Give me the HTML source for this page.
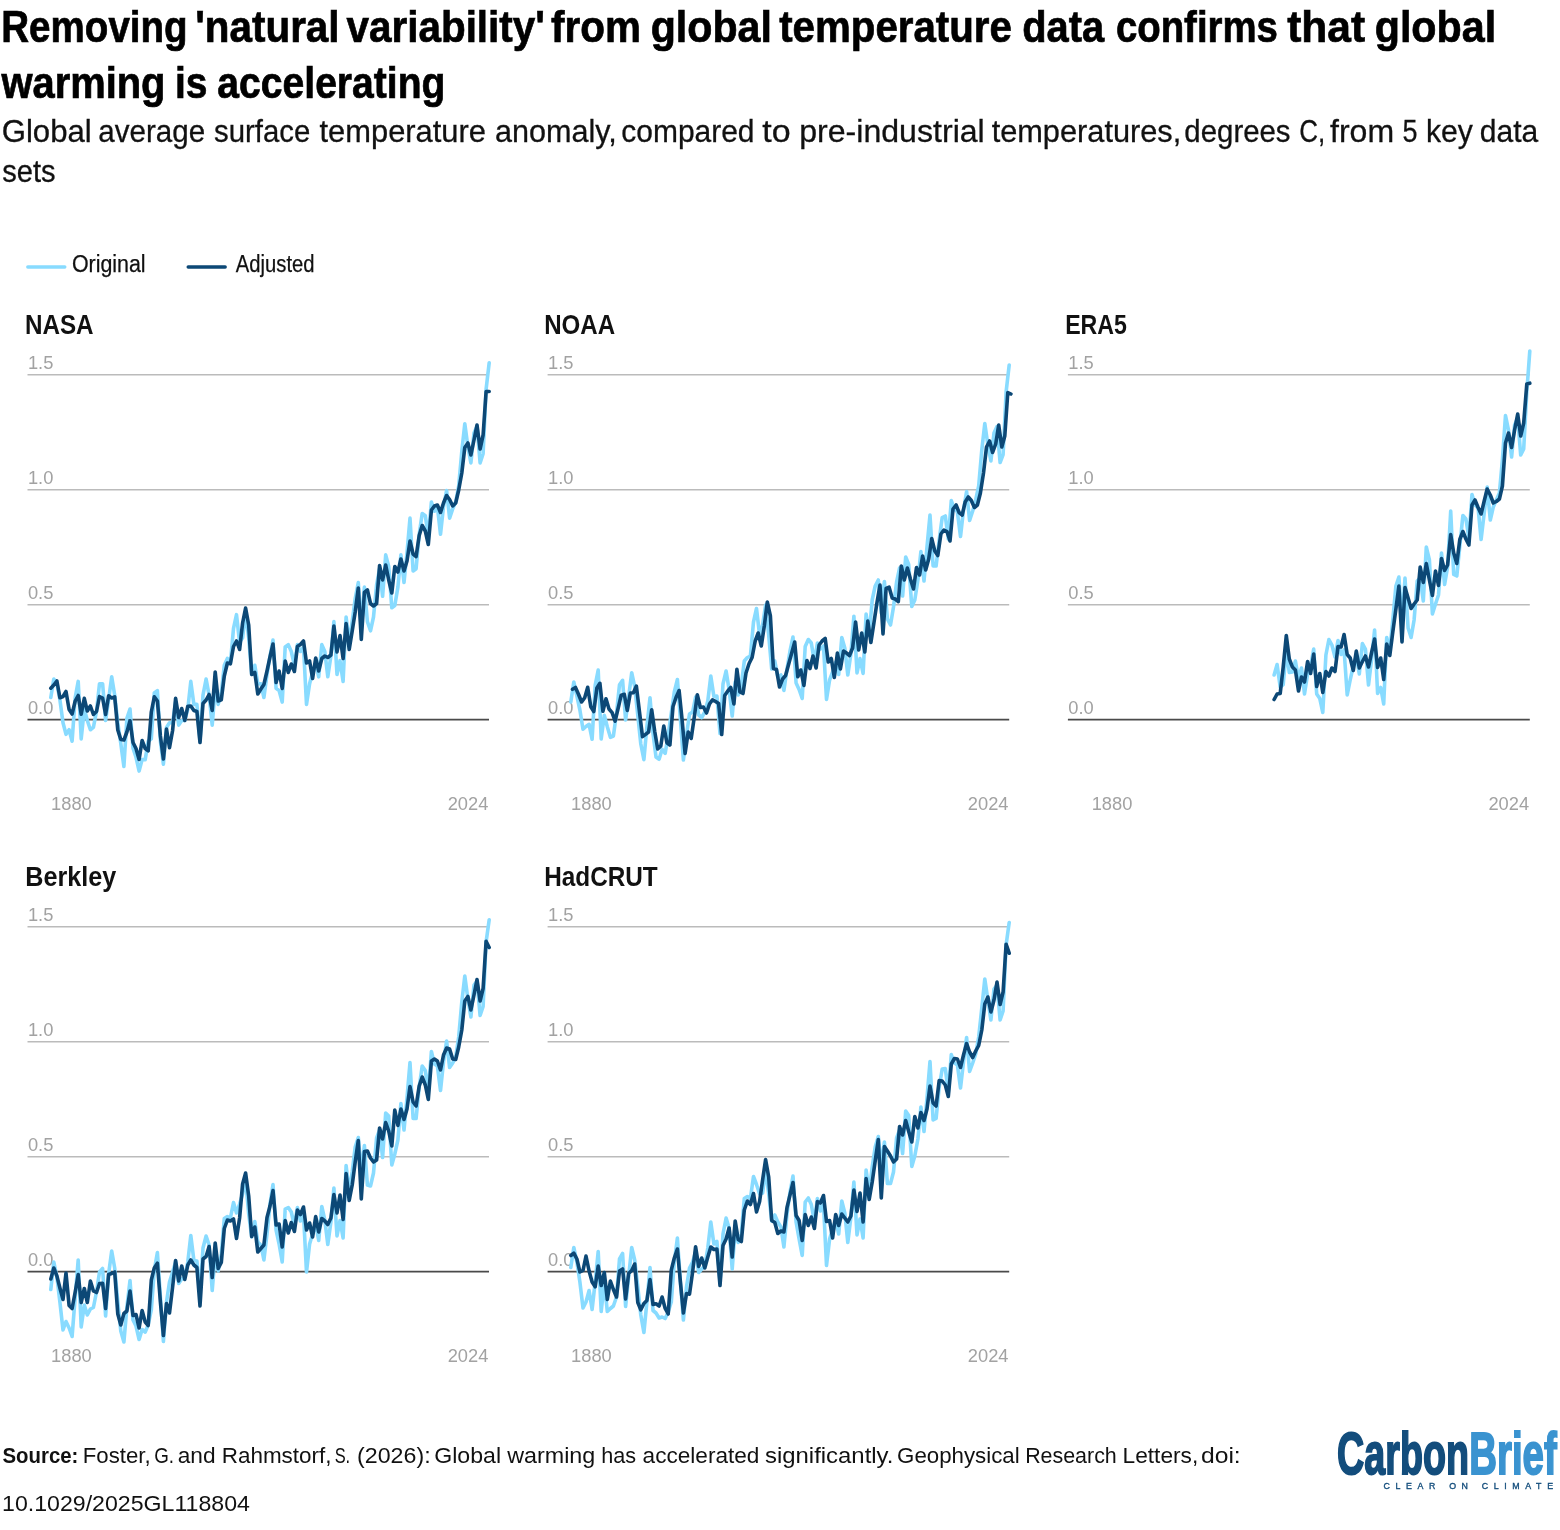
<!DOCTYPE html>
<html lang="en"><head><meta charset="utf-8"><title>Removing 'natural variability' from global temperature data confirms that global warming is accelerating</title>
<style>html,body{margin:0;padding:0;background:#fff}body{width:1560px;height:1530px;overflow:hidden;font-family:'Liberation Sans', Arial, Helvetica, sans-serif}svg{display:block}text{white-space:pre}</style>
</head><body>
<svg width="1560" height="1530" viewBox="0 0 1560 1530" font-family="'Liberation Sans', Arial, Helvetica, sans-serif">
<rect width="1560" height="1530" fill="#fff"/>
<g id="title">
<text y="42.0" font-size="44" font-weight="bold" fill="#000" stroke="#000" stroke-width="0.7"><tspan x="1.27" textLength="186.41" lengthAdjust="spacingAndGlyphs">Removing</tspan> <tspan x="195.25" textLength="144.31" lengthAdjust="spacingAndGlyphs">'natural</tspan> <tspan x="346.54" textLength="198.35" lengthAdjust="spacingAndGlyphs">variability'</tspan> <tspan x="551.11" textLength="89.9" lengthAdjust="spacingAndGlyphs">from</tspan> <tspan x="650.71" textLength="121.2" lengthAdjust="spacingAndGlyphs">global</tspan> <tspan x="779.21" textLength="232.67" lengthAdjust="spacingAndGlyphs">temperature</tspan> <tspan x="1022.27" textLength="81.88" lengthAdjust="spacingAndGlyphs">data</tspan> <tspan x="1115.9" textLength="162.07" lengthAdjust="spacingAndGlyphs">confirms</tspan> <tspan x="1287.18" textLength="77.94" lengthAdjust="spacingAndGlyphs">that</tspan> <tspan x="1374.71" textLength="121.51" lengthAdjust="spacingAndGlyphs">global</tspan></text>
<text y="98.0" font-size="44" font-weight="bold" fill="#000" stroke="#000" stroke-width="0.7"><tspan x="1.42" textLength="164.05" lengthAdjust="spacingAndGlyphs">warming</tspan> <tspan x="174.98" textLength="32.52" lengthAdjust="spacingAndGlyphs">is</tspan> <tspan x="217.36" textLength="228.06" lengthAdjust="spacingAndGlyphs">accelerating</tspan></text>
</g>
<g id="subtitle">
<text y="142.0" font-size="32" fill="#111" stroke="#111" stroke-width="0.3"><tspan x="1.73" textLength="90.05" lengthAdjust="spacingAndGlyphs">Global</tspan> <tspan x="98.24" textLength="106.87" lengthAdjust="spacingAndGlyphs">average</tspan> <tspan x="214.08" textLength="96.22" lengthAdjust="spacingAndGlyphs">surface</tspan> <tspan x="319.53" textLength="166.44" lengthAdjust="spacingAndGlyphs">temperature</tspan> <tspan x="494.92" textLength="121.87" lengthAdjust="spacingAndGlyphs">anomaly,</tspan> <tspan x="621.33" textLength="133.2" lengthAdjust="spacingAndGlyphs">compared</tspan> <tspan x="762.29" textLength="28.34" lengthAdjust="spacingAndGlyphs">to</tspan> <tspan x="799.23" textLength="185.52" lengthAdjust="spacingAndGlyphs">pre-industrial</tspan> <tspan x="991.63" textLength="189.63" lengthAdjust="spacingAndGlyphs">temperatures,</tspan> <tspan x="1184.37" textLength="106.2" lengthAdjust="spacingAndGlyphs">degrees</tspan> <tspan x="1299.18" textLength="25.95" lengthAdjust="spacingAndGlyphs">C,</tspan> <tspan x="1330.05" textLength="64.07" lengthAdjust="spacingAndGlyphs">from</tspan> <tspan x="1402.52" textLength="15.01" lengthAdjust="spacingAndGlyphs">5</tspan> <tspan x="1425.97" textLength="46.89" lengthAdjust="spacingAndGlyphs">key</tspan> <tspan x="1479.74" textLength="58.46" lengthAdjust="spacingAndGlyphs">data</tspan></text>
<text y="182.0" font-size="32" fill="#111" stroke="#111" stroke-width="0.3"><tspan x="2.29" textLength="53.36" lengthAdjust="spacingAndGlyphs">sets</tspan></text>
</g>
<g id="legend">
<line x1="27.8" x2="64.8" y1="267" y2="267" stroke="#88dbff" stroke-width="3.4" stroke-linecap="round"/>
<text x="71.89" y="272.4" font-size="23" fill="#111" textLength="73.75" lengthAdjust="spacingAndGlyphs" stroke="#111" stroke-width="0.25">Original</text>
<line x1="188.2" x2="225.2" y1="267" y2="267" stroke="#0c4876" stroke-width="3.4" stroke-linecap="round"/>
<text x="235.86" y="272.4" font-size="23" fill="#111" textLength="78.64" lengthAdjust="spacingAndGlyphs" stroke="#111" stroke-width="0.25">Adjusted</text>
</g>
<g id="footer">
<text y="1463.2" font-size="22" fill="#111"><tspan x="2.51" textLength="75.85" lengthAdjust="spacingAndGlyphs" font-weight="bold">Source:</tspan> <tspan x="82.81" textLength="67.85" lengthAdjust="spacingAndGlyphs">Foster,</tspan> <tspan x="154.15" textLength="19.86" lengthAdjust="spacingAndGlyphs">G.</tspan> <tspan x="177.74" textLength="37.82" lengthAdjust="spacingAndGlyphs">and</tspan> <tspan x="221.76" textLength="109.76" lengthAdjust="spacingAndGlyphs">Rahmstorf,</tspan> <tspan x="334.65" textLength="15.55" lengthAdjust="spacingAndGlyphs">S.</tspan> <tspan x="357.06" textLength="73.56" lengthAdjust="spacingAndGlyphs">(2026):</tspan> <tspan x="434.24" textLength="66.81" lengthAdjust="spacingAndGlyphs">Global</tspan> <tspan x="507.23" textLength="88.07" lengthAdjust="spacingAndGlyphs">warming</tspan> <tspan x="601.3" textLength="34.88" lengthAdjust="spacingAndGlyphs">has</tspan> <tspan x="642.64" textLength="116.82" lengthAdjust="spacingAndGlyphs">accelerated</tspan> <tspan x="764.94" textLength="128.51" lengthAdjust="spacingAndGlyphs">significantly.</tspan> <tspan x="897.08" textLength="122.61" lengthAdjust="spacingAndGlyphs">Geophysical</tspan> <tspan x="1025.14" textLength="91.65" lengthAdjust="spacingAndGlyphs">Research</tspan> <tspan x="1122.54" textLength="75.7" lengthAdjust="spacingAndGlyphs">Letters,</tspan> <tspan x="1200.96" textLength="39.79" lengthAdjust="spacingAndGlyphs">doi:</tspan></text>
<text y="1511.3" font-size="22" fill="#111"><tspan x="2.05" textLength="247.82" lengthAdjust="spacingAndGlyphs">10.1029/2025GL118804</tspan></text>
</g>
<g id="logo">
<text y="1474.0" font-size="60" font-weight="bold" stroke-width="2"><tspan x="1337.05" textLength="131.88" lengthAdjust="spacingAndGlyphs" fill="#134d7c" stroke="#134d7c">Carbon</tspan><tspan x="1469.23" textLength="87.49" lengthAdjust="spacingAndGlyphs" fill="#3a93d0" stroke="#3a93d0">Brief</tspan></text>
<text x="1383.5" y="1489.3" font-size="8.8" fill="#134d7c" stroke="#134d7c" stroke-width="0.35" textLength="169.5" lengthAdjust="spacing">CLEAR ON CLIMATE</text>
</g>
<g><text x="24.88" y="334.2" font-size="28" font-weight="bold" fill="#111" textLength="68.76" lengthAdjust="spacingAndGlyphs">NASA</text>
<line x1="27.5" x2="489.0" y1="374.7" y2="374.7" stroke="#bbbbbb" stroke-width="1.4"/>
<text x="27.9" y="368.8" font-size="18.3" fill="#a2a2a2">1.5</text>
<line x1="27.5" x2="489.0" y1="489.7" y2="489.7" stroke="#bbbbbb" stroke-width="1.4"/>
<text x="27.9" y="483.8" font-size="18.3" fill="#a2a2a2">1.0</text>
<line x1="27.5" x2="489.0" y1="604.7" y2="604.7" stroke="#bbbbbb" stroke-width="1.4"/>
<text x="27.9" y="598.8" font-size="18.3" fill="#a2a2a2">0.5</text>
<line x1="27.5" x2="489.0" y1="719.6" y2="719.6" stroke="#4a4a4a" stroke-width="1.8"/>
<text x="27.9" y="713.7" font-size="18.3" fill="#a2a2a2">0.0</text>
<text x="51.1" y="809.5" font-size="18.3" fill="#a2a2a2">1880</text>
<text x="488.3" y="809.5" font-size="18.3" fill="#a2a2a2" text-anchor="end">2024</text>
<path d="M50.8,697.5L53.8,679.1L56.9,683.7L59.9,699.8L63.0,722.8L66.0,734.3L69.1,729.7L72.1,741.2L75.2,697.5L78.2,681.4L81.2,738.9L84.3,709.0L87.3,720.5L90.4,729.7L93.4,727.4L96.5,711.3L99.5,683.7L102.6,683.7L105.6,720.5L108.6,699.8L111.7,676.8L114.7,695.2L117.8,722.8L120.8,743.5L123.9,766.5L126.9,718.2L130.0,709.0L133.0,748.1L136.0,757.3L139.1,771.1L142.1,759.6L145.2,759.6L148.2,741.2L151.3,738.9L154.3,692.9L157.4,690.6L160.4,741.2L163.4,764.2L166.5,727.4L169.5,722.8L172.6,722.8L175.6,702.1L178.7,725.1L181.7,720.5L184.8,720.5L187.8,709.0L190.8,681.4L193.9,704.4L196.9,704.4L200.0,741.2L203.0,695.2L206.1,679.1L209.1,695.2L212.2,725.1L215.2,688.3L218.2,704.4L221.3,692.9L224.3,665.3L227.4,658.4L230.4,663.0L233.5,628.5L236.5,614.7L239.6,642.3L242.6,637.7L245.6,612.4L248.7,637.7L251.7,674.5L254.8,665.3L257.8,683.7L260.9,683.7L263.9,697.5L267.0,674.5L270.0,656.1L273.0,640.0L276.1,688.3L279.1,690.6L282.2,702.1L285.2,646.9L288.3,644.6L291.3,651.5L294.4,665.3L297.4,644.6L300.4,651.5L303.5,646.9L306.5,704.4L309.6,683.7L312.6,672.2L315.7,663.0L318.7,676.8L321.8,644.6L324.8,651.5L327.8,676.8L330.9,656.1L333.9,621.6L337.0,674.5L340.0,660.7L343.1,681.4L346.1,617.0L349.2,642.3L352.2,621.6L355.2,598.6L358.3,582.5L361.3,626.2L364.4,587.1L367.4,621.6L370.5,630.8L373.5,617.0L376.6,584.8L379.6,568.7L382.6,596.3L385.7,554.9L388.7,566.4L391.8,607.8L394.8,605.5L397.9,587.1L400.9,554.9L404.0,582.5L407.0,552.6L410.0,518.1L413.1,571.0L416.1,568.7L419.2,534.2L422.2,513.5L425.3,515.8L428.3,536.5L431.4,502.0L434.4,511.2L437.4,506.6L440.5,534.2L443.5,506.6L446.6,490.5L449.6,518.1L452.7,508.9L455.7,502.0L458.7,485.9L461.8,451.4L464.8,423.8L467.9,446.8L470.9,462.9L474.0,433.0L477.0,426.1L480.1,462.9L483.1,453.7L486.1,389.3L489.2,362.8" fill="none" stroke="#88dbff" stroke-width="3.6" stroke-linejoin="round" stroke-linecap="round"/>
<path d="M50.8,688.2L53.8,685.0L56.9,681.0L59.9,697.8L63.0,696.5L66.0,691.5L69.1,709.5L72.1,714.0L75.2,701.0L78.2,695.5L81.2,714.2L84.3,698.3L87.3,711.0L90.4,706.0L93.4,714.5L96.5,711.5L99.5,696.5L102.6,698.0L105.6,714.5L108.6,695.8L111.7,698.0L114.7,696.8L117.8,730.0L120.8,739.5L123.9,740.0L126.9,732.0L130.0,720.8L133.0,742.5L136.0,748.5L139.1,759.5L142.1,740.5L145.2,748.5L148.2,750.8L151.3,712.0L154.3,696.8L157.4,701.0L160.4,736.0L163.4,759.0L166.5,729.0L169.5,747.8L172.6,730.5L175.6,698.3L178.7,717.5L181.7,708.5L184.8,720.5L187.8,706.2L190.8,706.0L193.9,710.5L196.9,711.5L200.0,742.5L203.0,703.5L206.1,700.0L209.1,694.5L212.2,710.5L215.2,672.0L218.2,701.0L221.3,699.8L224.3,676.0L227.4,663.0L230.4,663.8L233.5,646.5L236.5,641.0L239.6,649.5L242.6,623.0L245.6,608.0L248.7,625.0L251.7,674.5L254.8,672.5L257.8,694.0L260.9,689.0L263.9,684.5L267.0,671.0L270.0,657.0L273.0,644.0L276.1,682.5L279.1,671.0L282.2,688.5L285.2,661.0L288.3,672.5L291.3,664.0L294.4,671.5L297.4,646.5L300.4,644.5L303.5,641.0L306.5,663.0L309.6,661.0L312.6,678.5L315.7,658.0L318.7,671.0L321.8,658.5L324.8,656.0L327.8,657.5L330.9,655.0L333.9,626.0L337.0,652.0L340.0,635.5L343.1,658.5L346.1,623.5L349.2,649.5L352.2,631.0L355.2,612.0L358.3,588.0L361.3,639.5L364.4,592.5L367.4,590.0L370.5,603.5L373.5,606.0L376.6,603.5L379.6,565.5L382.6,580.0L385.7,565.0L388.7,580.0L391.8,593.0L394.8,566.5L397.9,572.0L400.9,559.0L404.0,571.0L407.0,561.0L410.0,541.0L413.1,554.0L416.1,556.5L419.2,535.5L422.2,525.5L425.3,531.0L428.3,544.5L431.4,510.0L434.4,506.0L437.4,505.0L440.5,512.5L443.5,503.0L446.6,495.5L449.6,499.5L452.7,506.0L455.7,503.0L458.7,490.0L461.8,473.0L464.8,447.5L467.9,443.0L470.9,455.0L474.0,440.0L477.0,425.0L480.1,449.0L483.1,435.0L486.1,391.5L489.2,391.5" fill="none" stroke="#0c4876" stroke-width="3.6" stroke-linejoin="round" stroke-linecap="round"/></g>
<g><text x="544.19" y="334.2" font-size="28" font-weight="bold" fill="#111" textLength="70.95" lengthAdjust="spacingAndGlyphs">NOAA</text>
<line x1="547.6" x2="1009.2" y1="374.7" y2="374.7" stroke="#bbbbbb" stroke-width="1.4"/>
<text x="548.0" y="368.8" font-size="18.3" fill="#a2a2a2">1.5</text>
<line x1="547.6" x2="1009.2" y1="489.7" y2="489.7" stroke="#bbbbbb" stroke-width="1.4"/>
<text x="548.0" y="483.8" font-size="18.3" fill="#a2a2a2">1.0</text>
<line x1="547.6" x2="1009.2" y1="604.7" y2="604.7" stroke="#bbbbbb" stroke-width="1.4"/>
<text x="548.0" y="598.8" font-size="18.3" fill="#a2a2a2">0.5</text>
<line x1="547.6" x2="1009.2" y1="719.6" y2="719.6" stroke="#4a4a4a" stroke-width="1.8"/>
<text x="548.0" y="713.7" font-size="18.3" fill="#a2a2a2">0.0</text>
<text x="571.1" y="809.5" font-size="18.3" fill="#a2a2a2">1880</text>
<text x="1008.5" y="809.5" font-size="18.3" fill="#a2a2a2" text-anchor="end">2024</text>
<path d="M570.8,702.0L573.8,682.0L576.9,696.0L579.9,710.0L583.0,729.3L586.0,726.5L589.1,724.3L592.1,739.3L595.2,685.0L598.2,670.0L601.2,739.0L604.3,715.3L607.3,726.7L610.4,737.3L613.4,736.0L616.5,713.3L619.5,684.7L622.6,680.3L625.6,720.0L628.6,697.3L631.7,672.7L634.7,686.7L637.8,715.3L640.8,744.0L643.9,759.7L646.9,726.7L650.0,697.7L653.0,733.3L656.0,757.0L659.1,759.3L662.1,749.3L665.2,753.3L668.2,735.0L671.3,713.0L674.3,692.0L677.4,679.5L680.4,719.0L683.4,760.0L686.5,735.0L689.5,714.0L692.6,712.0L695.6,697.0L698.7,715.0L701.7,717.5L704.8,712.0L707.8,701.0L710.8,676.0L713.9,696.5L716.9,696.0L720.0,733.5L723.0,684.0L726.1,671.0L729.1,689.5L732.2,716.0L735.2,682.0L738.2,695.0L741.3,685.0L744.3,661.0L747.4,657.5L750.4,656.0L753.5,622.0L756.5,608.5L759.6,635.0L762.6,625.0L765.6,605.0L768.7,635.0L771.7,669.0L774.8,661.0L777.8,677.0L780.9,675.0L783.9,690.5L787.0,669.0L790.0,651.0L793.0,637.0L796.1,683.0L799.1,689.5L802.2,698.5L805.2,646.5L808.3,639.5L811.3,643.0L814.4,662.0L817.4,643.0L820.4,649.0L823.5,646.0L826.5,699.5L829.6,680.0L832.6,672.0L835.7,662.0L838.7,674.5L841.8,637.5L844.8,648.0L847.8,675.0L850.9,654.0L853.9,616.2L857.0,673.0L860.0,658.5L863.1,673.5L866.1,614.0L869.2,635.0L872.2,600.0L875.2,586.0L878.3,580.0L881.3,613.0L884.4,581.5L887.4,619.0L890.5,625.0L893.5,607.0L896.6,582.0L899.6,568.0L902.6,596.0L905.7,557.0L908.7,564.5L911.8,606.5L914.8,600.0L917.9,580.0L920.9,551.5L924.0,581.0L927.0,547.0L930.0,515.0L933.1,566.0L936.1,566.0L939.2,540.0L942.2,517.5L945.3,516.0L948.3,539.0L951.3,500.5L954.4,509.0L957.4,512.0L960.5,536.5L963.5,510.0L966.6,491.5L969.6,520.5L972.7,511.0L975.7,500.0L978.7,486.0L981.8,450.0L984.8,423.5L987.9,445.0L990.9,461.0L994.0,433.0L997.0,426.5L1000.1,462.5L1003.1,454.5L1006.1,392.0L1009.2,365.0" fill="none" stroke="#88dbff" stroke-width="3.6" stroke-linejoin="round" stroke-linecap="round"/>
<path d="M572.5,689.3L575.5,687.5L578.6,694.5L581.6,702.0L584.7,697.7L587.7,687.3L590.8,706.7L593.8,711.5L596.9,688.0L599.9,683.3L602.9,711.3L606.0,698.8L609.0,709.0L612.1,712.7L615.1,721.2L618.2,708.0L621.2,695.2L624.3,694.3L627.3,710.5L630.3,693.0L633.4,692.7L636.4,686.1L639.5,712.0L642.5,736.7L645.6,734.3L648.6,732.0L651.7,709.7L654.7,731.3L657.7,749.0L660.8,746.0L663.8,726.0L666.9,742.7L669.9,745.0L673.0,706.5L676.0,697.5L679.1,690.5L682.1,720.0L685.1,753.5L688.2,732.0L691.2,738.5L694.3,717.0L697.3,694.8L700.4,707.5L703.4,707.0L706.5,713.0L709.5,704.0L712.5,699.8L715.6,701.5L718.6,703.5L721.7,734.5L724.7,695.5L727.8,691.0L730.8,687.5L733.9,704.0L736.9,669.2L739.9,692.0L743.0,693.5L746.0,673.0L749.1,663.5L752.1,657.5L755.2,641.0L758.2,633.0L761.3,646.0L764.3,626.0L767.3,602.0L770.4,616.0L773.4,668.5L776.5,669.5L779.5,687.0L782.6,679.0L785.6,675.5L788.7,664.0L791.7,653.0L794.7,642.0L797.8,676.8L800.8,670.0L803.9,685.5L806.9,660.5L810.0,668.5L813.0,656.0L816.1,668.0L819.1,645.0L822.1,641.0L825.2,638.5L828.2,662.0L831.3,658.5L834.3,677.5L837.4,653.0L840.4,669.0L843.5,651.0L846.5,653.0L849.5,655.5L852.6,648.0L855.6,622.0L858.7,650.0L861.7,633.0L864.8,652.0L867.8,621.0L870.9,642.5L873.9,623.0L876.9,603.0L880.0,585.0L883.0,634.0L886.1,588.5L889.1,587.2L892.2,598.0L895.2,599.0L898.3,601.5L901.3,566.0L904.3,580.0L907.4,568.0L910.4,579.0L913.5,589.0L916.5,567.5L919.6,575.0L922.6,556.0L925.7,570.0L928.7,559.0L931.7,538.5L934.8,551.0L937.8,555.5L940.9,534.0L943.9,530.0L947.0,531.5L950.0,541.0L953.0,509.0L956.1,505.0L959.1,512.5L962.2,515.0L965.2,502.0L968.3,497.0L971.3,500.5L974.4,507.5L977.4,505.0L980.4,493.0L983.5,473.0L986.5,447.0L989.6,441.0L992.6,452.5L995.7,444.0L998.7,425.0L1001.8,447.0L1004.8,436.0L1007.8,392.5L1010.9,394.0" fill="none" stroke="#0c4876" stroke-width="3.6" stroke-linejoin="round" stroke-linecap="round"/></g>
<g><text x="1065.15" y="334.2" font-size="28" font-weight="bold" fill="#111" textLength="61.79" lengthAdjust="spacingAndGlyphs">ERA5</text>
<line x1="1067.9" x2="1529.8" y1="374.7" y2="374.7" stroke="#bbbbbb" stroke-width="1.4"/>
<text x="1068.3" y="368.8" font-size="18.3" fill="#a2a2a2">1.5</text>
<line x1="1067.9" x2="1529.8" y1="489.7" y2="489.7" stroke="#bbbbbb" stroke-width="1.4"/>
<text x="1068.3" y="483.8" font-size="18.3" fill="#a2a2a2">1.0</text>
<line x1="1067.9" x2="1529.8" y1="604.7" y2="604.7" stroke="#bbbbbb" stroke-width="1.4"/>
<text x="1068.3" y="598.8" font-size="18.3" fill="#a2a2a2">0.5</text>
<line x1="1067.9" x2="1529.8" y1="719.6" y2="719.6" stroke="#4a4a4a" stroke-width="1.8"/>
<text x="1068.3" y="713.7" font-size="18.3" fill="#a2a2a2">0.0</text>
<text x="1091.7" y="809.5" font-size="18.3" fill="#a2a2a2">1880</text>
<text x="1529.1" y="809.5" font-size="18.3" fill="#a2a2a2" text-anchor="end">2024</text>
<path d="M1274.1,675.0L1277.1,664.5L1280.2,687.0L1283.2,684.5L1286.3,650.0L1289.3,672.5L1292.4,672.0L1295.4,661.0L1298.5,679.0L1301.5,668.0L1304.5,694.0L1307.6,674.0L1310.6,666.0L1313.7,649.0L1316.7,694.0L1319.8,698.5L1322.8,712.5L1325.9,655.0L1328.9,639.5L1331.9,645.0L1335.0,657.0L1338.0,640.5L1341.1,654.5L1344.1,650.0L1347.2,695.0L1350.2,680.0L1353.3,666.0L1356.3,656.0L1359.3,674.0L1362.4,643.5L1365.4,649.0L1368.5,685.0L1371.5,660.0L1374.6,630.0L1377.6,693.5L1380.7,687.5L1383.7,704.0L1386.7,637.5L1389.8,650.0L1392.8,620.0L1395.9,586.0L1398.9,577.0L1402.0,623.0L1405.0,578.0L1408.1,628.0L1411.1,637.5L1414.1,620.0L1417.2,581.0L1420.2,578.0L1423.3,601.0L1426.3,547.0L1429.4,560.0L1432.4,614.0L1435.5,604.0L1438.5,595.0L1441.5,553.0L1444.6,584.5L1447.6,567.0L1450.7,511.0L1453.7,574.5L1456.8,576.0L1459.8,546.0L1462.9,515.5L1465.9,519.0L1468.9,538.0L1472.0,494.5L1475.0,505.0L1478.1,508.0L1481.1,539.5L1484.2,513.0L1487.2,487.0L1490.3,520.0L1493.3,507.0L1496.3,500.0L1499.4,493.0L1502.4,460.0L1505.5,415.5L1508.5,430.0L1511.6,457.0L1514.6,425.0L1517.7,418.0L1520.7,455.0L1523.7,449.0L1526.8,392.0L1529.8,351.0" fill="none" stroke="#88dbff" stroke-width="3.6" stroke-linejoin="round" stroke-linecap="round"/>
<path d="M1274.1,699.5L1277.1,694.0L1280.2,693.5L1283.2,667.0L1286.3,635.5L1289.3,659.0L1292.4,667.0L1295.4,670.0L1298.5,691.0L1301.5,677.0L1304.5,682.0L1307.6,661.5L1310.6,673.5L1313.7,654.0L1316.7,686.5L1319.8,673.5L1322.8,692.5L1325.9,671.5L1328.9,676.0L1331.9,668.0L1335.0,671.5L1338.0,646.5L1341.1,647.0L1344.1,634.5L1347.2,654.5L1350.2,658.0L1353.3,670.5L1356.3,651.0L1359.3,668.0L1362.4,661.5L1365.4,656.0L1368.5,667.0L1371.5,653.0L1374.6,639.0L1377.6,667.5L1380.7,658.0L1383.7,679.5L1386.7,644.0L1389.8,655.5L1392.8,632.0L1395.9,609.0L1398.9,586.0L1402.0,642.0L1405.0,587.5L1408.1,598.0L1411.1,608.5L1414.1,604.0L1417.2,600.0L1420.2,567.0L1423.3,582.5L1426.3,563.5L1429.4,580.0L1432.4,595.5L1435.5,571.0L1438.5,585.5L1441.5,558.5L1444.6,570.5L1447.6,565.0L1450.7,534.5L1453.7,553.0L1456.8,563.5L1459.8,539.5L1462.9,531.5L1465.9,539.0L1468.9,545.0L1472.0,505.0L1475.0,500.0L1478.1,507.5L1481.1,514.0L1484.2,501.0L1487.2,489.0L1490.3,495.0L1493.3,503.0L1496.3,501.5L1499.4,499.0L1502.4,486.0L1505.5,443.0L1508.5,433.0L1511.6,447.5L1514.6,430.0L1517.7,414.0L1520.7,436.0L1523.7,423.0L1526.8,384.0L1529.8,383.2" fill="none" stroke="#0c4876" stroke-width="3.6" stroke-linejoin="round" stroke-linecap="round"/></g>
<g><text x="25.22" y="886.2" font-size="28" font-weight="bold" fill="#111" textLength="90.92" lengthAdjust="spacingAndGlyphs">Berkley</text>
<line x1="27.5" x2="489.0" y1="926.8" y2="926.8" stroke="#bbbbbb" stroke-width="1.4"/>
<text x="27.9" y="920.9" font-size="18.3" fill="#a2a2a2">1.5</text>
<line x1="27.5" x2="489.0" y1="1041.8" y2="1041.8" stroke="#bbbbbb" stroke-width="1.4"/>
<text x="27.9" y="1035.9" font-size="18.3" fill="#a2a2a2">1.0</text>
<line x1="27.5" x2="489.0" y1="1156.8" y2="1156.8" stroke="#bbbbbb" stroke-width="1.4"/>
<text x="27.9" y="1150.9" font-size="18.3" fill="#a2a2a2">0.5</text>
<line x1="27.5" x2="489.0" y1="1271.7" y2="1271.7" stroke="#4a4a4a" stroke-width="1.8"/>
<text x="27.9" y="1265.8" font-size="18.3" fill="#a2a2a2">0.0</text>
<text x="51.1" y="1361.6" font-size="18.3" fill="#a2a2a2">1880</text>
<text x="488.3" y="1361.6" font-size="18.3" fill="#a2a2a2" text-anchor="end">2024</text>
<path d="M50.8,1289.5L53.8,1262.0L56.9,1277.0L59.9,1302.0L63.0,1330.0L66.0,1321.5L69.1,1328.0L72.1,1336.5L75.2,1297.0L78.2,1260.0L81.2,1327.0L84.3,1305.0L87.3,1315.0L90.4,1309.0L93.4,1307.5L96.5,1292.0L99.5,1272.0L102.6,1268.5L105.6,1316.0L108.6,1274.0L111.7,1251.0L114.7,1268.0L117.8,1302.0L120.8,1331.0L123.9,1342.0L126.9,1307.0L130.0,1280.5L133.0,1320.0L136.0,1326.0L139.1,1339.5L142.1,1329.5L145.2,1332.0L148.2,1325.0L151.3,1310.0L154.3,1270.0L157.4,1252.5L160.4,1297.0L163.4,1341.5L166.5,1302.0L169.5,1282.0L172.6,1272.0L175.6,1262.0L178.7,1283.5L181.7,1279.0L184.8,1277.0L187.8,1262.0L190.8,1235.5L193.9,1260.5L196.9,1261.0L200.0,1294.0L203.0,1248.0L206.1,1236.0L209.1,1245.0L212.2,1290.5L215.2,1254.0L218.2,1271.0L221.3,1254.0L224.3,1218.5L227.4,1216.5L230.4,1218.0L233.5,1202.5L236.5,1213.0L239.6,1204.0L242.6,1194.0L245.6,1179.0L248.7,1214.0L251.7,1237.0L254.8,1221.5L257.8,1242.0L260.9,1245.0L263.9,1260.0L267.0,1234.0L270.0,1204.0L273.0,1184.5L276.1,1230.0L279.1,1244.0L282.2,1262.0L285.2,1209.0L288.3,1207.5L291.3,1212.0L294.4,1226.0L297.4,1207.5L300.4,1221.0L303.5,1214.0L306.5,1272.0L309.6,1244.0L312.6,1234.0L315.7,1224.0L318.7,1240.5L321.8,1206.5L324.8,1220.0L327.8,1244.5L330.9,1222.0L333.9,1188.0L337.0,1236.0L340.0,1220.5L343.1,1238.0L346.1,1165.5L349.2,1192.0L352.2,1172.0L355.2,1147.0L358.3,1137.5L361.3,1172.0L364.4,1145.5L367.4,1185.0L370.5,1186.0L373.5,1173.0L376.6,1138.0L379.6,1130.0L382.6,1157.5L385.7,1113.0L388.7,1116.0L391.8,1165.0L394.8,1154.0L397.9,1140.0L400.9,1103.5L404.0,1130.0L407.0,1098.0L410.0,1062.5L413.1,1118.5L416.1,1118.5L419.2,1087.0L422.2,1066.0L425.3,1070.5L428.3,1092.0L431.4,1051.5L434.4,1064.0L437.4,1066.0L440.5,1090.5L443.5,1062.0L446.6,1041.0L449.6,1067.5L452.7,1063.0L455.7,1057.0L458.7,1037.0L461.8,1002.0L464.8,976.0L467.9,999.0L470.9,1017.0L474.0,985.0L477.0,981.0L480.1,1015.5L483.1,1006.5L486.1,942.0L489.2,919.8" fill="none" stroke="#88dbff" stroke-width="3.6" stroke-linejoin="round" stroke-linecap="round"/>
<path d="M50.8,1279.0L53.8,1268.0L56.9,1276.0L59.9,1288.0L63.0,1299.5L66.0,1273.0L69.1,1305.5L72.1,1308.5L75.2,1292.0L78.2,1274.5L81.2,1302.5L84.3,1288.5L87.3,1302.5L90.4,1281.0L93.4,1291.0L96.5,1292.5L99.5,1283.5L102.6,1283.2L105.6,1308.5L108.6,1274.5L111.7,1273.5L114.7,1272.0L117.8,1314.0L120.8,1325.0L123.9,1313.5L126.9,1311.0L130.0,1291.0L133.0,1315.5L136.0,1314.5L139.1,1328.0L142.1,1310.5L145.2,1322.0L148.2,1325.5L151.3,1280.0L154.3,1268.0L157.4,1263.2L160.4,1302.0L163.4,1335.5L166.5,1303.5L169.5,1313.0L172.6,1287.0L175.6,1260.5L178.7,1281.0L181.7,1266.0L184.8,1279.5L187.8,1265.0L190.8,1260.0L193.9,1265.0L196.9,1267.5L200.0,1306.0L203.0,1259.0L206.1,1256.5L209.1,1246.5L212.2,1277.5L215.2,1243.0L218.2,1268.5L221.3,1262.5L224.3,1228.5L227.4,1220.0L230.4,1221.0L233.5,1219.0L236.5,1238.5L239.6,1218.0L242.6,1184.0L245.6,1173.0L248.7,1196.0L251.7,1236.5L254.8,1227.0L257.8,1252.0L260.9,1248.5L263.9,1245.0L267.0,1217.5L270.0,1206.0L273.0,1190.5L276.1,1225.0L279.1,1224.0L282.2,1247.0L285.2,1220.5L288.3,1233.0L291.3,1222.5L294.4,1231.5L297.4,1210.0L300.4,1214.5L303.5,1207.0L306.5,1230.0L309.6,1223.0L312.6,1237.0L315.7,1216.5L318.7,1232.0L321.8,1218.5L324.8,1221.0L327.8,1224.5L330.9,1218.0L333.9,1194.5L337.0,1213.0L340.0,1195.0L343.1,1219.5L346.1,1173.5L349.2,1200.5L352.2,1185.0L355.2,1162.0L358.3,1140.5L361.3,1199.0L364.4,1151.5L367.4,1151.0L370.5,1158.0L373.5,1162.0L376.6,1160.0L379.6,1128.0L382.6,1139.0L385.7,1122.5L388.7,1131.0L391.8,1146.0L394.8,1110.0L397.9,1125.5L400.9,1109.0L404.0,1119.5L407.0,1109.0L410.0,1086.5L413.1,1102.0L416.1,1106.0L419.2,1086.0L422.2,1077.0L425.3,1085.0L428.3,1099.5L431.4,1061.0L434.4,1059.0L437.4,1061.0L440.5,1070.0L443.5,1055.0L446.6,1048.0L449.6,1049.0L452.7,1059.0L455.7,1059.5L458.7,1047.0L461.8,1030.0L464.8,1001.0L467.9,996.5L470.9,1010.0L474.0,995.0L477.0,979.5L480.1,1001.0L483.1,988.5L486.1,941.2L489.2,947.5" fill="none" stroke="#0c4876" stroke-width="3.6" stroke-linejoin="round" stroke-linecap="round"/></g>
<g><text x="544.17" y="886.0" font-size="28" font-weight="bold" fill="#111" textLength="113.59" lengthAdjust="spacingAndGlyphs">HadCRUT</text>
<line x1="547.6" x2="1009.2" y1="926.8" y2="926.8" stroke="#bbbbbb" stroke-width="1.4"/>
<text x="548.0" y="920.9" font-size="18.3" fill="#a2a2a2">1.5</text>
<line x1="547.6" x2="1009.2" y1="1041.8" y2="1041.8" stroke="#bbbbbb" stroke-width="1.4"/>
<text x="548.0" y="1035.9" font-size="18.3" fill="#a2a2a2">1.0</text>
<line x1="547.6" x2="1009.2" y1="1156.8" y2="1156.8" stroke="#bbbbbb" stroke-width="1.4"/>
<text x="548.0" y="1150.9" font-size="18.3" fill="#a2a2a2">0.5</text>
<line x1="547.6" x2="1009.2" y1="1271.7" y2="1271.7" stroke="#4a4a4a" stroke-width="1.8"/>
<text x="548.0" y="1265.8" font-size="18.3" fill="#a2a2a2">0.0</text>
<text x="571.1" y="1361.6" font-size="18.3" fill="#a2a2a2">1880</text>
<text x="1008.5" y="1361.6" font-size="18.3" fill="#a2a2a2" text-anchor="end">2024</text>
<path d="M570.8,1267.5L573.8,1247.5L576.9,1262.0L579.9,1282.0L583.0,1308.0L586.0,1302.0L589.1,1290.5L592.1,1309.5L595.2,1282.0L598.2,1251.5L601.2,1311.5L604.3,1282.0L607.3,1311.5L610.4,1308.5L613.4,1306.0L616.5,1297.0L619.5,1259.0L622.6,1253.5L625.6,1306.5L628.6,1277.0L631.7,1247.5L634.7,1260.0L637.8,1287.0L640.8,1315.0L643.9,1332.5L646.9,1302.0L650.0,1267.5L653.0,1310.5L656.0,1313.0L659.1,1318.0L662.1,1317.0L665.2,1318.5L668.2,1312.0L671.3,1302.0L674.3,1262.0L677.4,1238.0L680.4,1282.0L683.4,1320.0L686.5,1287.0L689.5,1268.0L692.6,1262.0L695.6,1252.0L698.7,1272.5L701.7,1269.0L704.8,1266.0L707.8,1248.0L710.8,1222.0L713.9,1244.0L716.9,1241.5L720.0,1282.0L723.0,1234.0L726.1,1218.0L729.1,1228.0L732.2,1269.0L735.2,1229.0L738.2,1242.5L741.3,1234.0L744.3,1198.5L747.4,1196.5L750.4,1198.5L753.5,1176.5L756.5,1184.5L759.6,1194.0L762.6,1193.0L765.6,1169.0L768.7,1194.0L771.7,1221.0L774.8,1215.0L777.8,1222.0L780.9,1227.0L783.9,1247.0L787.0,1214.0L790.0,1192.0L793.0,1176.0L796.1,1222.0L799.1,1239.0L802.2,1255.5L805.2,1202.0L808.3,1198.0L811.3,1204.5L814.4,1222.0L817.4,1198.5L820.4,1211.0L823.5,1204.0L826.5,1265.5L829.6,1239.0L832.6,1229.0L835.7,1220.0L838.7,1234.0L841.8,1201.0L844.8,1213.0L847.8,1242.5L850.9,1217.0L853.9,1182.0L857.0,1235.0L860.0,1219.0L863.1,1238.0L866.1,1170.0L869.2,1192.0L872.2,1167.0L875.2,1147.0L878.3,1136.5L881.3,1167.0L884.4,1142.0L887.4,1183.5L890.5,1183.5L893.5,1172.0L896.6,1138.0L899.6,1130.0L902.6,1153.5L905.7,1111.0L908.7,1115.5L911.8,1166.5L914.8,1156.0L917.9,1139.0L920.9,1107.0L924.0,1131.5L927.0,1098.0L930.0,1061.5L933.1,1120.0L936.1,1118.5L939.2,1087.0L942.2,1069.0L945.3,1068.5L948.3,1092.0L951.3,1054.5L954.4,1063.0L957.4,1065.0L960.5,1088.0L963.5,1062.0L966.6,1037.5L969.6,1071.5L972.7,1063.0L975.7,1054.0L978.7,1037.0L981.8,1008.0L984.8,979.0L987.9,1000.0L990.9,1020.0L994.0,989.0L997.0,985.0L1000.1,1020.0L1003.1,1011.0L1006.1,945.0L1009.2,922.5" fill="none" stroke="#88dbff" stroke-width="3.6" stroke-linejoin="round" stroke-linecap="round"/>
<path d="M570.8,1255.5L573.8,1253.2L576.9,1259.0L579.9,1272.0L583.0,1270.5L586.0,1256.0L589.1,1271.0L592.1,1282.0L595.2,1286.8L598.2,1266.0L601.2,1285.5L604.3,1272.5L607.3,1299.5L610.4,1281.0L613.4,1289.5L616.5,1297.0L619.5,1271.0L622.6,1269.0L625.6,1299.0L628.6,1273.5L631.7,1270.5L634.7,1264.0L637.8,1302.5L640.8,1309.8L643.9,1303.5L646.9,1300.5L650.0,1279.5L653.0,1304.5L656.0,1303.8L659.1,1306.0L662.1,1297.0L665.2,1308.5L668.2,1314.0L671.3,1270.0L674.3,1258.0L677.4,1249.0L680.4,1282.0L683.4,1313.0L686.5,1293.5L689.5,1294.2L692.6,1272.0L695.6,1246.8L698.7,1266.5L701.7,1258.0L704.8,1268.0L707.8,1257.0L710.8,1247.0L713.9,1249.5L716.9,1249.0L720.0,1285.5L723.0,1245.5L726.1,1239.0L729.1,1228.0L732.2,1257.0L735.2,1221.0L738.2,1239.5L741.3,1241.5L744.3,1210.0L747.4,1201.0L750.4,1204.5L753.5,1193.5L756.5,1212.0L759.6,1201.5L762.6,1180.0L765.6,1159.5L768.7,1177.0L771.7,1220.5L774.8,1222.5L777.8,1233.5L780.9,1231.0L783.9,1232.0L787.0,1207.5L790.0,1195.0L793.0,1182.5L796.1,1215.5L799.1,1220.5L802.2,1240.5L805.2,1214.5L808.3,1225.5L811.3,1217.0L814.4,1228.5L817.4,1201.5L820.4,1203.0L823.5,1195.5L826.5,1221.5L829.6,1220.5L832.6,1238.0L835.7,1214.5L838.7,1225.5L841.8,1214.0L844.8,1218.0L847.8,1222.0L850.9,1216.0L853.9,1190.0L857.0,1211.5L860.0,1193.0L863.1,1222.0L866.1,1178.5L869.2,1199.5L872.2,1182.0L875.2,1161.0L878.3,1139.5L881.3,1198.0L884.4,1146.5L887.4,1151.0L890.5,1156.0L893.5,1162.0L896.6,1159.0L899.6,1126.5L902.6,1135.0L905.7,1120.5L908.7,1131.5L911.8,1142.0L914.8,1116.5L917.9,1128.0L920.9,1112.5L924.0,1120.5L927.0,1109.0L930.0,1086.0L933.1,1103.0L936.1,1106.0L939.2,1080.5L942.2,1081.0L945.3,1085.0L948.3,1096.5L951.3,1064.0L954.4,1058.5L957.4,1059.0L960.5,1067.5L963.5,1055.0L966.6,1043.5L969.6,1052.0L972.7,1057.5L975.7,1051.0L978.7,1045.5L981.8,1030.0L984.8,1004.0L987.9,997.0L990.9,1012.0L994.0,1000.0L997.0,982.0L1000.1,1004.5L1003.1,992.0L1006.1,944.2L1009.2,953.2" fill="none" stroke="#0c4876" stroke-width="3.6" stroke-linejoin="round" stroke-linecap="round"/></g>
</svg>
</body></html>
